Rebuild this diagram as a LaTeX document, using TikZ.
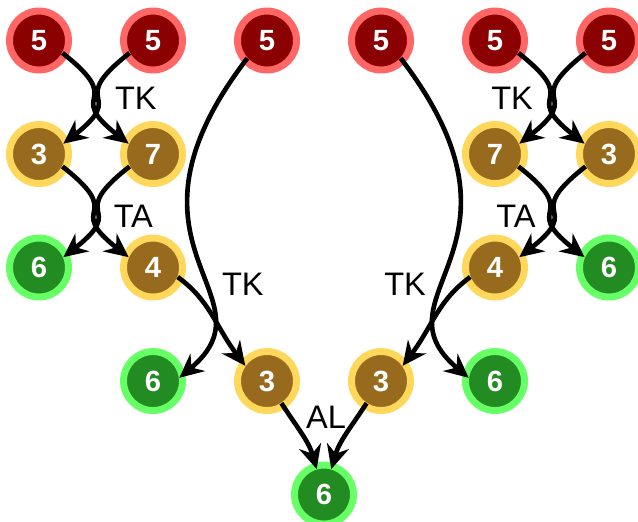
\documentclass[tikz,border=0pt]{standalone}
\usepackage{fontspec}
\setmainfont{Liberation Sans}
\usetikzlibrary{arrows.meta, positioning}

\definecolor{ringred}{HTML}{FF6666}
\definecolor{fillred}{HTML}{8B0000}
\definecolor{ringgold}{HTML}{FFD75A}
\definecolor{fillbrown}{HTML}{986A1E}
\definecolor{ringgreen}{HTML}{66FF66}
\definecolor{fillgreen}{HTML}{228B22}

\begin{document}
\begin{tikzpicture}[
        state/.style={
            circle,
            draw,
            line width=5.25pt,
            minimum size=1.56cm,
            inner sep=0pt,
            outer sep=-2.25pt,
            text=white,
            font=\fontsize{22}{24}\selectfont\bfseries
        },
        hot/.style={
            state,
            draw=ringred,
            fill=fillred
        },
        warm/.style={
            state,
            draw=ringgold,
            fill=fillbrown
        },
        done/.style={
            state,
            draw=ringgreen,
            fill=fillgreen
        },
        move/.style={
            -{Stealth[length=18pt, width=17pt, inset=6pt]},
            line width=3.5pt,
            black
        },
        movelabel/.style={
            font=\fontsize{24.5}{26}\selectfont,
            inner sep=0pt
        },
        node distance=3.003cm and 3.016cm,
        on grid
    ]

        \useasboundingbox (-1.032,-12.713) rectangle (15.848,1.072);

        % ---------------------------------------------------------------------
        % States
        % ---------------------------------------------------------------------

        \node[hot] (top1) at (0,0) {5};
        \node[hot, right=of top1] (top2) {5};
        \node[hot, right=of top2] (top3) {5};
        \node[hot, right=of top3] (top4) {5};
        \node[hot, right=of top4] (top5) {5};
        \node[hot, right=of top5] (top6) {5};

        \node[warm, below=of top1] (up1) {3};
        \node[warm, below=of top2] (up2) {7};
        \node[warm, below=of top5] (up3) {7};
        \node[warm, below=of top6] (up4) {3};

        \node[done, below=of up1] (mid1) {6};
        \node[warm, below=of up2] (mid2) {4};
        \node[warm, below=of up3] (mid3) {4};
        \node[done, below=of up4] (mid4) {6};

        \node[done, below=of mid2] (low1) {6};
        \node[warm, right=of low1] (low2) {3};
        \node[warm, right=of low2] (low3) {3};
        \node[done, right=of low3] (low4) {6};

        \node[done, below right=3.003cm and 1.508cm of low2] (root) {6};

        % ---------------------------------------------------------------------
        % Crossing moves, left side
        % ---------------------------------------------------------------------

        \draw[move] (top1.-28) .. controls +(1.75,-1.37) and +(-1.75,1.37) ..
            node[movelabel, midway, right=13pt] (tkleft) {TK} (up2.157);
        \draw[move] (top2.-152) .. controls +(-1.75,-1.37) and +(1.75,1.37) .. (up1.23);

        \draw[move] (up1.-28) .. controls +(1.75,-1.37) and +(-1.75,1.37) ..
            node[movelabel, midway, right=12pt, yshift=-3pt] (taleft) {TA} (mid2.157);
        \draw[move] (up2.-152) .. controls +(-1.75,-1.37) and +(1.75,1.37) .. (mid1.23);

        % ---------------------------------------------------------------------
        % Crossing moves, right side
        % ---------------------------------------------------------------------

        \draw[move] (top5.-28) .. controls +(1.75,-1.37) and +(-1.75,1.37) .. (up4.157);
        \draw[move] (top6.-152) .. controls +(-1.75,-1.37) and +(1.75,1.37) ..
            node[movelabel, midway, left=13pt] (tkright) {TK} (up3.23);

        \draw[move] (up3.-28) .. controls +(1.75,-1.37) and +(-1.75,1.37) .. (mid4.157);
        \draw[move] (up4.-152) .. controls +(-1.75,-1.37) and +(1.75,1.37) ..
            node[movelabel, midway, left=11pt, yshift=-3pt] (taright) {TA} (mid3.23);

        % ---------------------------------------------------------------------
        % Long moves down the middle
        % ---------------------------------------------------------------------

        \draw[move] (top3.222) .. controls +(-3.86,-5.03) and +(2.61,2.19) ..
            node[movelabel, pos=0.6, right=12pt] (tkmidleft) {TK} (low1.7);
        \draw[move] (mid2.-21) .. controls +(0.857,-0.624) and +(-0.794,1.058) .. (low2.145);

        \draw[move] (top4.-42) .. controls +(3.86,-5.03) and +(-2.61,2.19) ..
            node[movelabel, pos=0.6, left=12pt] (tkmidright) {TK} (low4.173);
        \draw[move] (mid3.-159) .. controls +(-0.857,-0.624) and +(0.794,1.058) .. (low3.35);

        % ---------------------------------------------------------------------
        % Joining at the bottom
        % ---------------------------------------------------------------------

        \draw[move] (low2) to[out=-57, in=106] (root);
        \draw[move] (low3) to[out=-123, in=74] (root);

        \node[movelabel, above=2.05cm of root, xshift=1.5pt] (join) {AL};

    \end{tikzpicture}
\end{document}
